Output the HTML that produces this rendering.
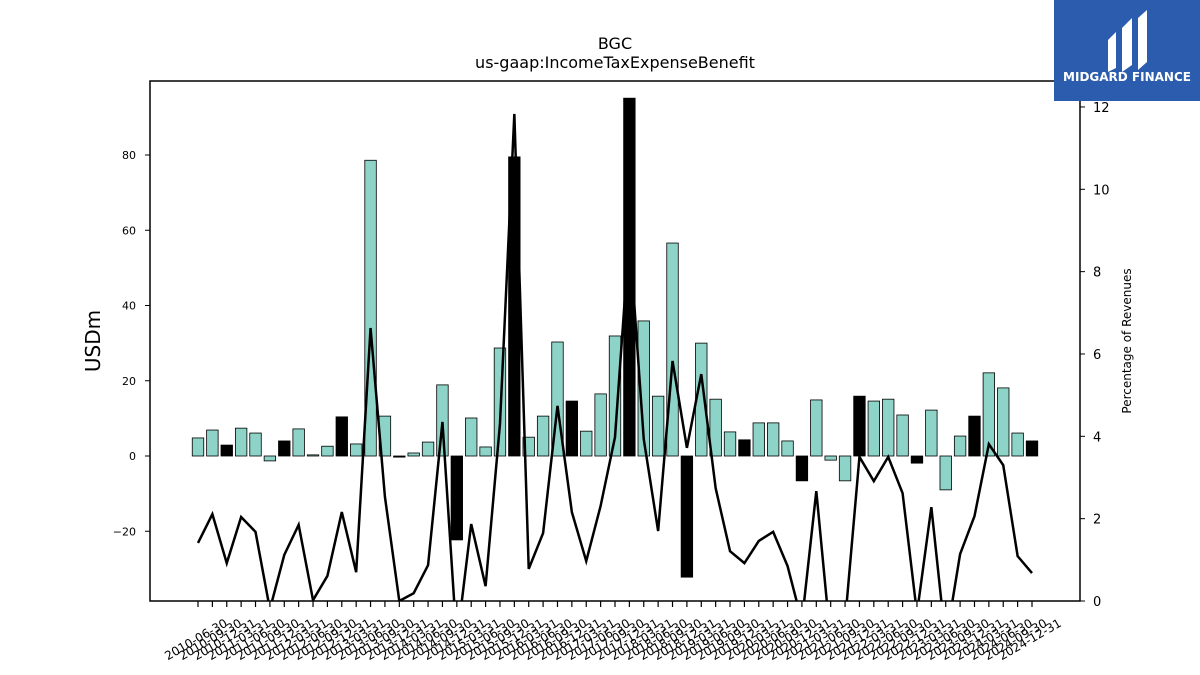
<!DOCTYPE html>
<html><head><meta charset="utf-8"><style>
body{margin:0;background:#fff;font-family:"DejaVu Sans","Liberation Sans",sans-serif;}
svg{display:block;font-family:"DejaVu Sans","Liberation Sans",sans-serif;}
</style></head><body>
<svg id="c" width="1200" height="675" viewBox="0 0 1200 675" xmlns="http://www.w3.org/2000/svg">
<defs><clipPath id="pc"><rect x="150" y="81" width="930" height="520"/></clipPath></defs>
<text x="615" y="49" text-anchor="middle" font-size="16">BGC</text>
<text x="615" y="68" text-anchor="middle" font-size="16">us-gaap:IncomeTaxExpenseBenefit</text>
<g id="bars"></g>
<g id="line" clip-path="url(#pc)"></g>
<rect x="150" y="81" width="930" height="520" fill="none" stroke="#000" stroke-width="1.5"/>
<g id="yl"></g>
<g id="yr"></g>
<g id="xa"></g>
<text transform="translate(100,341) rotate(-90)" text-anchor="middle" font-size="20">USDm</text>
<text transform="translate(1131,341) rotate(-90)" text-anchor="middle" font-size="12">Percentage of Revenues</text>
<g>
<rect x="1054" y="0" width="146" height="101" fill="#2b5cad"/>
<path d="M1108 40 L1116 32 L1116 68 L1108 72 Z" fill="#fff"/>
<path d="M1122 28 L1132 18 L1132 65 L1122 72 Z" fill="#fff"/>
<path d="M1138 18 L1147 10 L1147 62 L1138 70 Z" fill="#fff"/>
<text x="1127" y="81" text-anchor="middle" font-size="12" font-weight="bold" fill="#fff">MIDGARD FINANCE</text>
</g>
</svg>
<script>
const dates=[];
for(let y=2010;y<=2024;y++){for(const q of ["03-31","06-30","09-30","12-31"]){const d=y+"-"+q;if(d>="2010-06-30")dates.push(d);}}
const values=[4.8,6.9,2.9,7.4,6.1,-1.3,4.0,7.2,0.3,2.6,10.4,3.2,78.6,10.6,-0.3,0.8,3.7,18.9,-22.3,10.1,2.4,28.7,79.5,5.0,10.6,30.3,14.6,6.6,16.5,31.9,95.1,35.9,15.9,56.6,-32.2,30.0,15.1,6.4,4.3,8.8,8.8,4.0,-6.6,14.9,-1.1,-6.6,15.9,14.6,15.1,10.9,-1.9,12.2,-9.0,5.3,10.6,22.1,18.1,6.1,4.0];
const pct=[1.41,2.11,0.92,2.04,1.68,-0.2,1.12,1.85,0.02,0.61,2.16,0.70,6.63,2.53,0.0,0.19,0.87,4.35,-1.0,1.87,0.36,4.3,11.83,0.78,1.65,4.74,2.16,0.97,2.31,3.98,8.9,3.93,1.70,5.83,3.72,5.51,2.74,1.21,0.92,1.46,1.68,0.85,-0.5,2.67,-1.0,-0.5,3.50,2.91,3.50,2.62,-0.3,2.28,-1.0,1.14,2.06,3.81,3.30,1.09,0.68];
const leftTicks=[-20,0,20,40,60,80];
const rightTicks=[0,2,4,6,8,10,12];
const NS="http://www.w3.org/2000/svg";
function mk(t,a,p){const e=document.createElementNS(NS,t);for(const k in a)e.setAttribute(k,a[k]);p.appendChild(e);return e;}
const x0=198,dx=(1032-198)/(dates.length-1);
const X=i=>x0+i*dx;
const Y=v=>456-v*3.7625;
const YR=v=>601-v*41.17;
const bw=dx*0.8;
const bars=document.getElementById('bars');
values.forEach((v,i)=>{
  const q4=dates[i].endsWith("12-31");
  const r=mk('rect',{x:X(i)-bw/2,y:Math.min(Y(v),Y(0)),width:bw,height:Math.abs(Y(v)-Y(0)),fill:q4?'#000':'#8dd3c7',stroke:'#000','stroke-width':0.8},bars);
  
  
});
const lg=document.getElementById('line');
const pl=mk('polyline',{points:pct.map((v,i)=>X(i)+','+YR(v)).join(' '),fill:'none',stroke:'#000','stroke-width':2.5},lg);


const yl=document.getElementById('yl');
leftTicks.forEach(t=>{
  mk('line',{x1:145,x2:150,y1:Y(t),y2:Y(t),stroke:'#000'},yl);
  const tx=mk('text',{x:136,y:Y(t)+4,'text-anchor':'end','font-size':11},yl);
  tx.textContent=t<0?'\u2212'+(-t):t;
  
  
});
const yr=document.getElementById('yr');
rightTicks.forEach(t=>{
  mk('line',{x1:1080,x2:1085,y1:YR(t),y2:YR(t),stroke:'#000'},yr);
  const tx=mk('text',{x:1093,y:YR(t)+5,'font-size':13},yr);
  tx.textContent=t;
  
  
});
const xa=document.getElementById('xa');
dates.forEach((d,i)=>{
  mk('line',{x1:X(i),x2:X(i),y1:601,y2:607,stroke:'#000','stroke-width':1.2},xa);
  const tx=mk('text',{transform:'translate('+X(i)+',643) rotate(-30)','text-anchor':'middle','font-size':12},xa);
  tx.textContent=d;
  
  
});
</script>
</body></html>
